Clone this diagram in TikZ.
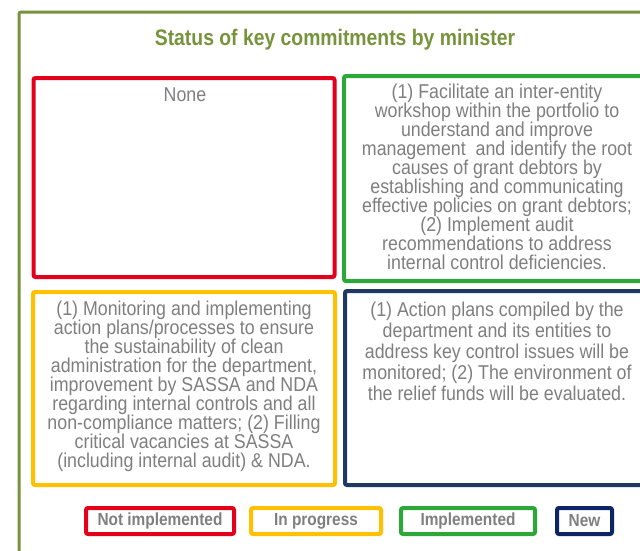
\documentclass[tikz,border=0pt]{standalone}
\usepackage{fontspec}
\setmainfont{Liberation Sans}
\newfontfamily\bodyfont[FakeStretch=0.89]{Liberation Sans}
\newfontfamily\titlefont[FakeStretch=0.86]{Liberation Sans}
\newfontfamily\legfont[FakeStretch=0.88]{Liberation Sans}
\definecolor{frameolive}{HTML}{77933C}
\definecolor{cred}{HTML}{E2001A}
\definecolor{cgreen}{HTML}{2CA838}
\definecolor{cyellow}{HTML}{FFC000}
\definecolor{cnavy}{HTML}{1F3864}
\definecolor{clegnavy}{HTML}{0B2566}
\definecolor{cgray}{HTML}{7F7F7F}
\tikzset{
  outerframe/.style={draw=frameolive, line width=3pt, rounded corners=2pt, inner sep=0pt},
  titletext/.style={font=\titlefont\bfseries\fontsize{22.5}{26}\selectfont, text=frameolive, inner sep=0pt},
  statusbox/.style={draw, line width=4pt, rounded corners=2pt, inner sep=0pt},
  boxtext/.style={font=\bodyfont\fontsize{20}{19}\selectfont, text=cgray, align=center, inner sep=0pt},
  legbox/.style={draw, line width=4pt, rounded corners=2pt, inner sep=0pt, minimum height=26pt,
    font=\legfont\bfseries\fontsize{17.5}{19}\selectfont, text=cgray},
}
\begin{document}
\begin{tikzpicture}[x=1pt,y=-1pt]
\clip (0,0) rectangle (640,550);
\fill[white] (0,0) rectangle (640,550);
\node[outerframe, minimum width=646pt, minimum height=563pt] (outer) at (342,293.5) {};
\node[titletext, anchor=base] (title) at (335,45) {Status of key commitments by minister};

\node[statusbox, draw=cred, minimum width=301pt, minimum height=199pt] (notimpl) at (184,177.5) {};
\node[statusbox, draw=cgreen, minimum width=308pt, minimum height=205pt] (impl) at (498,178.5) {};
\node[statusbox, draw=cyellow, minimum width=302pt, minimum height=193pt] (inprog) at (184,388.5) {};
\node[statusbox, draw=cnavy, minimum width=307pt, minimum height=194pt] (newbox) at (498.5,388) {};

\node[boxtext, anchor=north] (notimpltext) at (185,87.5) {None};
\node[boxtext, anchor=north] (impltext) at (497,84) {(1) Facilitate an inter-entity\\
workshop within the portfolio to\\
understand and improve\\
management\ \ and identify the root\\
causes of grant debtors by\\
establishing and communicating\\
effective policies on grant debtors;\\
(2) Implement audit\\
recommendations to address\\
internal control deficiencies.};
\node[boxtext, anchor=north] (inprogtext) at (184,300.5) {(1) Monitoring and implementing\\
action plans/processes to ensure\\
the sustainability of clean\\
administration for the department,\\
improvement by SASSA and NDA\\
regarding internal controls and all\\
non-compliance matters; (2) Filling\\
critical vacancies at SASSA\\
(including internal audit) \& NDA.};
\node[boxtext, font=\bodyfont\fontsize{20}{21}\selectfont, anchor=north] (newtext) at (497,301.5) {(1) Action plans compiled by the\\
department and its entities to\\
address key control issues will be\\
monitored; (2) The environment of\\
the relief funds will be evaluated.};

\node[legbox, draw=cred, minimum width=148pt] (legnot) at (160,521) {Not implemented};
\node[legbox, draw=cyellow, minimum width=130pt] (legprog) at (316,521) {In progress};
\node[legbox, draw=cgreen, minimum width=134pt] (legimpl) at (468,521) {Implemented};
\node[legbox, draw=clegnavy, minimum width=55pt] (legnew) at (584.5,521) {New};
\end{tikzpicture}
\end{document}
